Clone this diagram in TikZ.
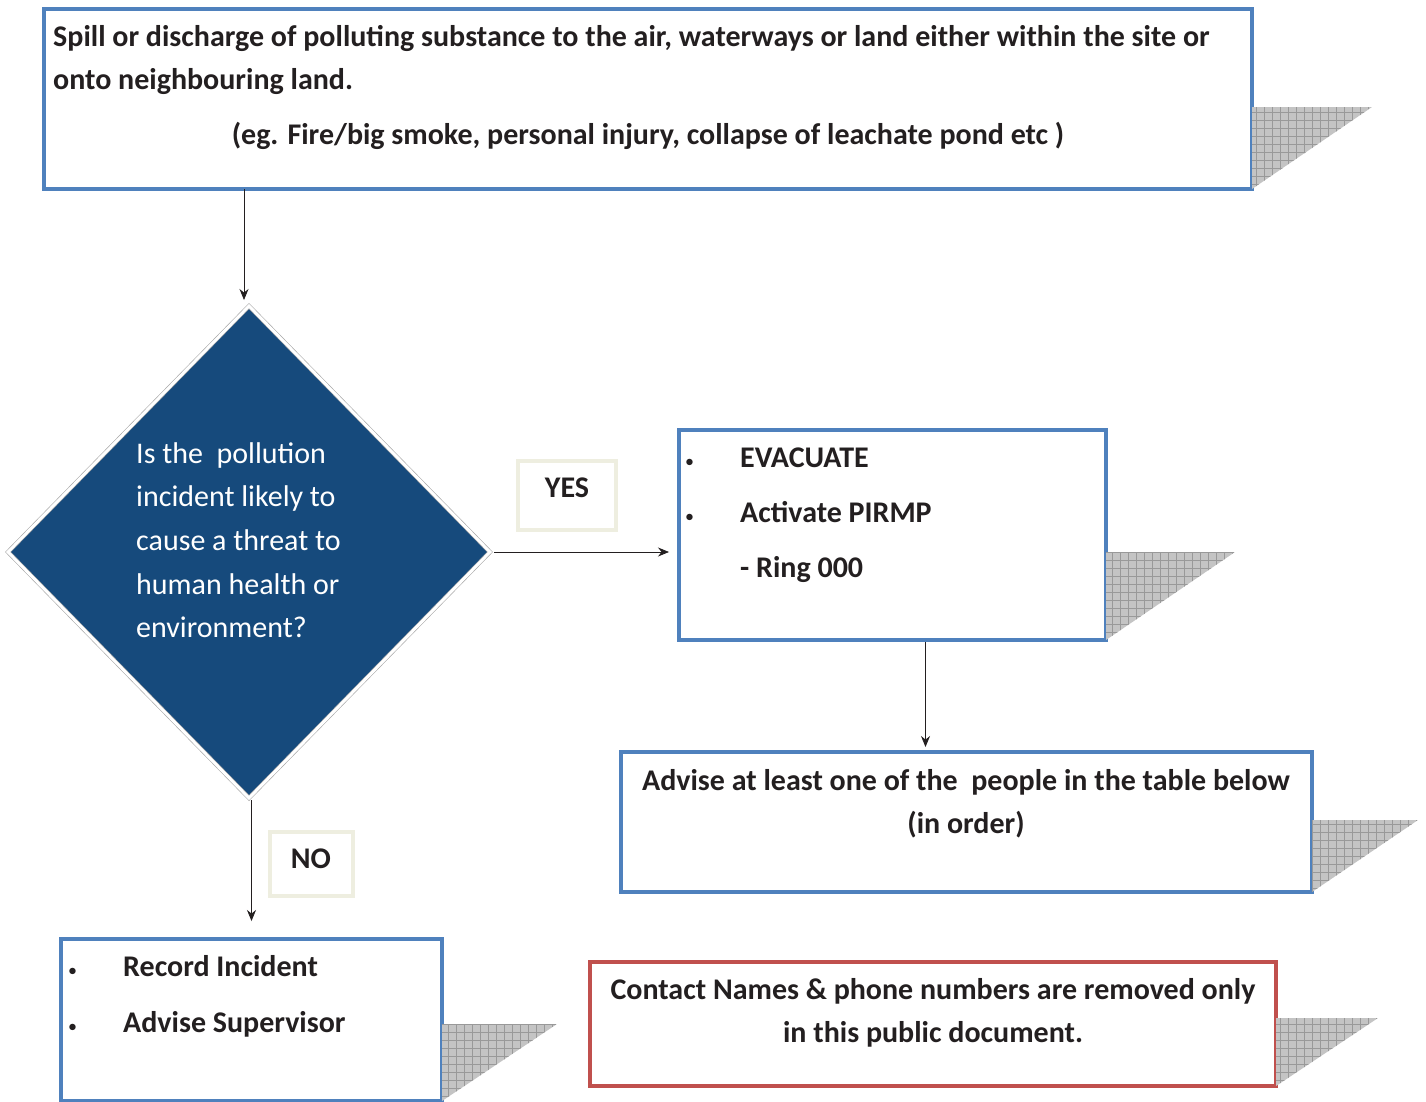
\documentclass[tikz,border=0pt]{standalone}
\usepackage{fontspec}
\setmainfont{Carlito}
\usetikzlibrary{shapes.geometric,arrows.meta,calc}

\definecolor{boxblue}{HTML}{4F81BD}
\definecolor{boxred}{HTML}{C0504D}
\definecolor{qblue}{HTML}{164A7C}
\definecolor{tagline}{HTML}{EEEEE0}
\definecolor{inkgray}{HTML}{231F20}
\definecolor{shadefill}{HTML}{C4C4C4}

\begin{document}
\begin{tikzpicture}[x=1pt,y=-1pt,
  font=\fontsize{30}{44}\selectfont\bfseries, text=inkgray,
  box/.style={draw=boxblue,line width=4pt,fill=white,inner sep=0pt,outer sep=0pt,anchor=north west},
  redbox/.style={box,draw=boxred},
  tagbox/.style={draw=tagline,line width=4pt,fill=white,inner sep=0pt,outer sep=0pt,anchor=north west},
  arr/.style={-{Stealth[length=11pt,width=9pt]},line width=0.8pt,inkgray},
  txt/.style={anchor=base west,inner sep=0pt},
  ctxt/.style={anchor=base,inner sep=0pt},
  dot/.style={txt,font=\fontsize{18}{20}\selectfont}]
\useasboundingbox (0,0) rectangle (1426,1101);

% boxes
\node[box,minimum width=1208,minimum height=180] (spill) at (44,9) {};
\node[box,minimum width=427,minimum height=210] (evac) at (679,430) {};
\node[box,minimum width=691,minimum height=140] (advise) at (621,752) {};
\node[box,minimum width=381,minimum height=162] (rec) at (61,939) {};
\node[redbox,minimum width=686,minimum height=124] (contact) at (590,962) {};

% shadows
\foreach \b/\h/\w in {spill/82/120, evac/88/129, advise/72/106, rec/77/115, contact/68/102}{
  \begin{scope}
    \clip (\b.south east) -- ++(0,-\h) -- ++(\w,0) -- cycle;
    \fill[shadefill] (\b.south east) rectangle ++(\w,-\h);
    \draw[black!40,line width=0.5pt,step=8pt] ($(\b.south east)+(0,2)$) grid ++(\w,-\h-4);
  \end{scope}
}

% decision
\node[diamond,minimum width=482,minimum height=492,inner sep=0pt,outer sep=0pt,
  fill=qblue,draw=black!35,line width=0.6pt,double=white,double distance=3pt] (q) at (249,552) {};

\node[tagbox,minimum width=98,minimum height=69] (yes) at (518,461) {};
\node[tagbox,minimum width=83,minimum height=64] (no) at (270,832) {};

% texts
\node[txt] (s1) at (53,46) {Spill or discharge of polluting substance to the air, waterways or land either within the site or};
\node[txt] (s2) at (53,89) {onto neighbouring land.};
\node[ctxt] (s3) at (648,144) {(eg. Fire/big smoke, personal injury, collapse of leachate pond etc )};

\foreach \t [count=\i] in {Is the\ \ pollution, incident likely to, cause a threat to, human health or, environment?}
  \node[txt,text=white,font=\fontsize{30}{44}\selectfont\mdseries] (qt\i) at (136,{463+43.7*(\i-1)}) {\t};

\node[ctxt] (yest) at (567,497) {YES};
\node[ctxt] (not) at (311,868) {NO};

\node[txt] (e1) at (740,467) {EVACUATE};
\node[txt] (e2) at (740,522) {Activate PIRMP};
\node[txt] (e3) at (740,577) {- Ring 000};
\node[dot] (eb1) at (685,467) {•};
\node[dot] (eb2) at (685,522) {•};

\node[ctxt] (a1) at (966,790) {Advise at least one of the\ \ people in the table below};
\node[ctxt] (a2) at (966,833) {(in order)};

\node[txt] (r1) at (123,976) {Record Incident};
\node[txt] (r2) at (123,1032) {Advise Supervisor};
\node[dot] (rb1) at (68,976) {•};
\node[dot] (rb2) at (68,1032) {•};

\node[ctxt] (c1) at (933,999) {Contact Names \& phone numbers are removed only};
\node[ctxt] (c2) at (933,1042) {in this public document.};

% connectors
\draw[arr,shorten >=6pt] ([xshift=200]spill.south west) -- ([xshift=200]spill.south west |- q.north);
\draw[arr,shorten <=4pt,shorten >=10pt] (q.east) -- (evac.west |- q.east);
\draw[arr,shorten <=2pt,shorten >=5pt] ([xshift=33]evac.south) -- ([xshift=33]evac.south |- advise.north);
\draw[arr,shorten <=2pt,shorten >=18pt] (q.south -| rec.north) -- (rec.north);
\end{tikzpicture}
\end{document}
